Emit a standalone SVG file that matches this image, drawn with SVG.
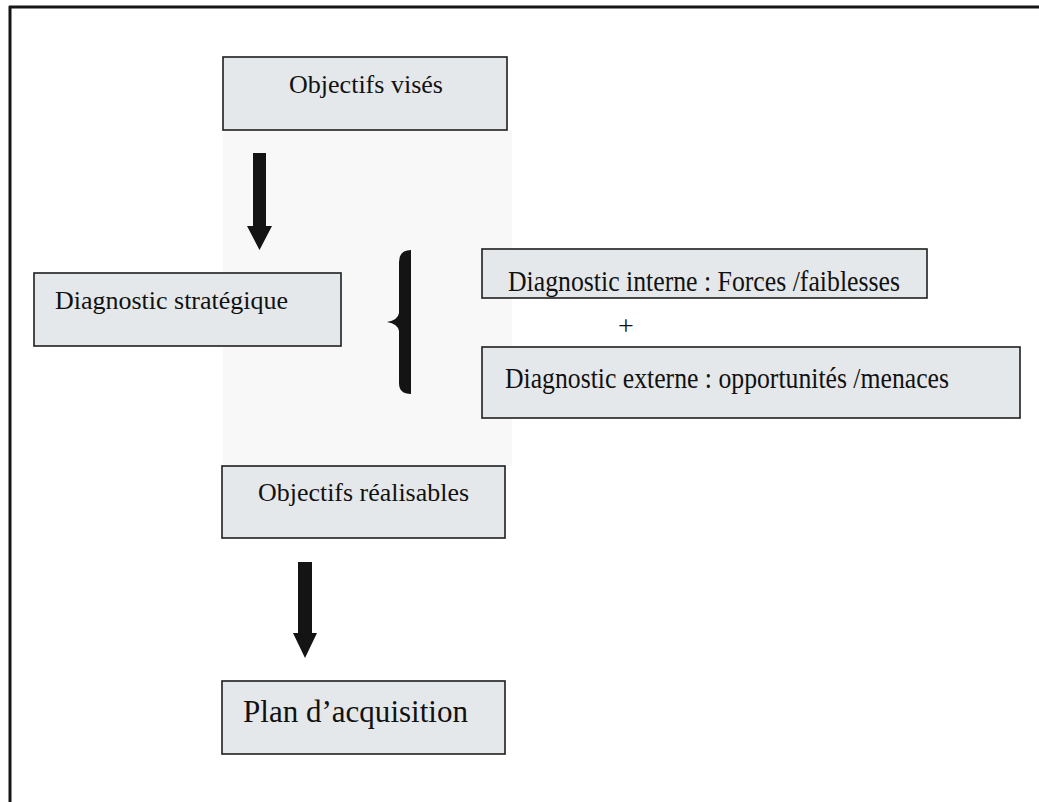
<svg xmlns="http://www.w3.org/2000/svg" width="1039" height="802" viewBox="0 0 1039 802">
  <style>
    .box { fill: #e5e8ea; stroke: #1e1e1e; stroke-width: 1.6; }
    .lbl { font-family: "Liberation Serif", "Times New Roman", serif; fill: #111; }
    .arrow { fill: #141414; }
    .frame { stroke: #151515; stroke-width: 3; fill: none; }
  </style>

  <rect width="1039" height="802" fill="#ffffff"/>
  <!-- faint shaded column behind the central flow -->
  <rect x="223" y="130" width="289" height="336" fill="#f8f8f8"/>

  <!-- page frame (top and left rules) -->
  <g id="frame">
    <line class="frame" x1="9" y1="7" x2="1039" y2="7"/>
    <line class="frame" x1="10" y1="6" x2="10" y2="802"/>
  </g>

  <g id="node-objectifs-vises">
    <rect class="box" x="223" y="57" width="284" height="73"/>
    <text class="lbl" x="366" y="93" font-size="26" text-anchor="middle" textLength="154" lengthAdjust="spacingAndGlyphs">Objectifs visés</text>
  </g>

  <g id="node-diagnostic-strategique">
    <rect class="box" x="34" y="273" width="307" height="73"/>
    <text class="lbl" x="55" y="309" font-size="26" textLength="233" lengthAdjust="spacingAndGlyphs">Diagnostic stratégique</text>
  </g>

  <g id="node-diagnostic-interne">
    <rect class="box" x="482" y="249" width="445" height="49"/>
    <text class="lbl" x="508" y="291" font-size="29" textLength="392" lengthAdjust="spacingAndGlyphs">Diagnostic interne : Forces /faiblesses</text>
  </g>

  <g id="plus-sign">
    <text class="lbl" x="626" y="335" font-size="28" text-anchor="middle">+</text>
  </g>

  <g id="node-diagnostic-externe">
    <rect class="box" x="482" y="347" width="538" height="71"/>
    <text class="lbl" x="505" y="388" font-size="29" textLength="444" lengthAdjust="spacingAndGlyphs">Diagnostic externe : opportunités /menaces</text>
  </g>

  <g id="node-objectifs-realisables">
    <rect class="box" x="222" y="466" width="283" height="72"/>
    <text class="lbl" x="258" y="501" font-size="26" textLength="211" lengthAdjust="spacingAndGlyphs">Objectifs réalisables</text>
  </g>

  <g id="node-plan-acquisition">
    <rect class="box" x="222" y="681" width="283" height="73"/>
    <text class="lbl" x="243" y="722" font-size="31" textLength="225" lengthAdjust="spacingAndGlyphs">Plan d’acquisition</text>
  </g>

  <g id="connectors">
    <!-- block arrow: Objectifs visés -> Diagnostic stratégique -->
    <path class="arrow" d="M253 153 H266 V226 H272 L259.5 250 L247 226 H253 Z"/>
    <!-- curly brace grouping the two diagnostics -->
    <path class="arrow" d="M411 250 L411 394 Q399 394 399 383 L399 331 Q398 324 387 322 Q398 320 399 313 L399 262 Q399 250 411 250 Z"/>
    <!-- block arrow: Objectifs réalisables -> Plan d'acquisition -->
    <path class="arrow" d="M298 562 H312 V633 H317 L305 658 L293 633 H298 Z"/>
  </g>
</svg>
